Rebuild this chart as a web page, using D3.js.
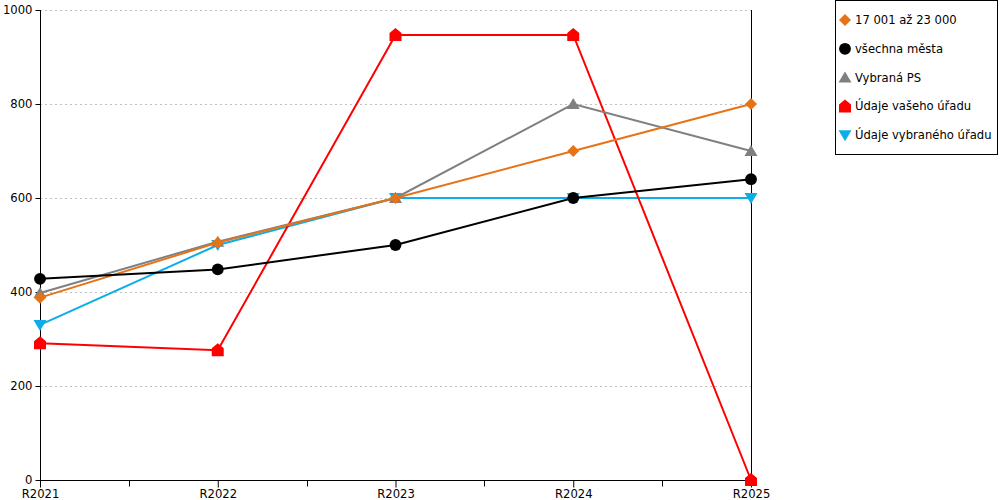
<!DOCTYPE html>
<html><head><meta charset="utf-8">
<script src="https://cdn.jsdelivr.net/npm/d3@7"></script>
<style>body{margin:0;background:#fff}svg{font-family:"DejaVu Sans",Verdana,sans-serif}</style>
</head><body><svg id="c" width="1000" height="500"></svg>
<script>
const categories = ["R2021","R2022","R2023","R2024","R2025"];
const yTicks = [0,200,400,600,800,1000];
const seriesNames = ["17 001 až 23 000","všechna města","Vybraná PS","Údaje vašeho úřadu","Údaje vybraného úřadu"];
const orangeVals = [388,505,600,700,800];
const blackVals = [428,448,500,600,640];
const grayVals = [398,507,600,800,700];
const redVals = [291,276,947,947,0];
const blueVals = [330,500,600,600,600];
const colors = ["#e57317","#000000","#808080","#ff0000","#0daee8"];
const shapes = ["diamond","circle","triangle","house","triangleDown"];

const series = [orangeVals,blackVals,grayVals,redVals,blueVals].map((v,i)=>({name:seriesNames[i],values:v,color:colors[i],shape:shapes[i]}));
const drawOrder = [4,3,2,0,1].map(i=>series[i]);

const svg = d3.select("#c");
const x = d3.scalePoint().domain(categories).range([40,751]);
const y = d3.scaleLinear().domain([0,1000]).range([480,10]);
const FS = 11.6;

// grid
svg.append("g").selectAll("line").data(yTicks.filter(d=>d>0)).join("line")
  .attr("x1",40).attr("x2",751).attr("y1",d=>y(d)+0.5).attr("y2",d=>y(d)+0.5)
  .attr("stroke","#c0c0c0").attr("stroke-dasharray","2,3");

// y axis
const ya = svg.append("g").attr("transform","translate(40.5,0)").call(d3.axisLeft(y).tickValues(yTicks).tickSize(5).tickPadding(3).tickFormat(d3.format("d")));
ya.select(".domain").attr("d","M0,"+y(1000)+"V"+y(0));
ya.selectAll("text").attr("font-size",FS).attr("font-family","DejaVu Sans").attr("fill","#000");
// x axis
const xa = svg.append("g").attr("transform","translate(0,480.5)").call(d3.axisBottom(x).tickSize(7).tickPadding(2));
xa.select(".domain").attr("d","M40,0H751");
xa.selectAll("text").attr("font-size",FS).attr("font-family","DejaVu Sans").attr("fill","#000");
// minor ticks between categories
const mids = categories.slice(1).map((c,i)=>(x(categories[i])+x(c))/2);
xa.append("g").selectAll("line").data(mids).join("line")
  .attr("x1",d=>Math.round(d)+0.5).attr("x2",d=>Math.round(d)+0.5).attr("y1",0).attr("y2",6).attr("stroke","#000");
// right vertical line
svg.append("line").attr("x1",751.5).attr("x2",751.5).attr("y1",y(1000)).attr("y2",y(0)).attr("stroke","#000");

function markerPath(shape){
  switch(shape){
    case "diamond": return "M0,-6L6,0L0,6L-6,0Z";
    case "circle": return d3.symbol(d3.symbolCircle,110)();
    case "triangle": return "M0,-6L6.5,5L-6.5,5Z";
    case "triangleDown": return "M-6.5,-5L6.5,-5L0,6Z";
    case "house": return "M-6,-2L0,-7L6,-2L6,6L-6,6Z";
  }
}
const line = d3.line().x((d,i)=>x(categories[i])).y(d=>y(d));
drawOrder.forEach(s=>{
  const g = svg.append("g");
  g.append("path").attr("d",line(s.values)).attr("fill","none").attr("stroke",s.color).attr("stroke-width",2);
  g.selectAll("path.m").data(s.values).join("path").attr("class","m")
    .attr("transform",(d,i)=>`translate(${x(categories[i])},${y(d)})`)
    .attr("d",markerPath(s.shape)).attr("fill",s.color);
});

// legend
const lg = svg.append("g");
lg.append("rect").attr("x",835.5).attr("y",0.5).attr("width",162).attr("height",154).attr("fill","#fff").attr("stroke","#000");
series.forEach((s,i)=>{
  const yy = 20 + i*28.8;
  lg.append("path").attr("transform",`translate(845,${yy})`).attr("d",markerPath(s.shape)).attr("fill",s.color);
  lg.append("text").attr("x",855).attr("y",yy).attr("dy","0.35em").attr("font-size",FS).attr("fill","#000").text(s.name);
});
</script></body></html>
